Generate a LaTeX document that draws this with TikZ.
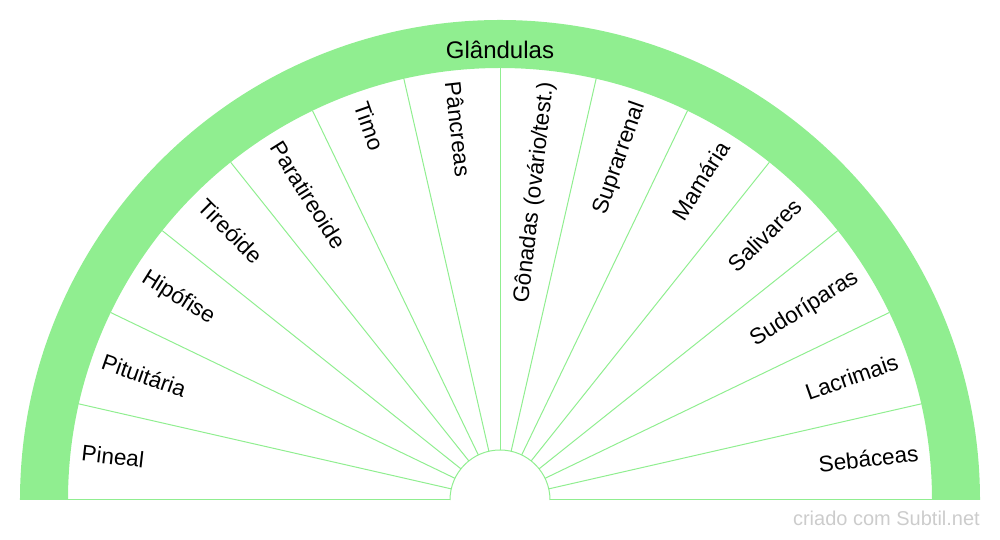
\documentclass[tikz,border=0pt]{standalone}
\usepackage{fontspec}
\setmainfont{Liberation Sans}
\definecolor{band}{RGB}{144,238,144}
\definecolor{wmgray}{RGB}{204,204,204}
\begin{document}
\begin{tikzpicture}[x=1pt,y=1pt,
  lbl/.style={inner sep=0pt, font=\fontsize{22.5}{27}\selectfont},
  divider/.style={draw=band, line width=1pt}]
\useasboundingbox (-500,-40) rectangle (500,500);
\fill[band] (-480,0) arc[start angle=180,end angle=0,radius=480] -- (432,0) arc[start angle=0,end angle=180,radius=432] -- cycle;
\foreach \k in {0,...,14} \draw[divider] (\k*180/14:50) -- (\k*180/14:432);
\draw[divider] (50,0) arc[start angle=0,end angle=180,radius=50];
\foreach \t [count=\i from 0] in {Pineal,Pituitária,Hipófise,Tireóide,Paratireoide,Timo,Pâncreas}{
  \pgfmathsetmacro{\th}{180-(\i+0.5)*180/14}
  \node[lbl, anchor=west, rotate=\th-180] (l\i) at (\th:421) {\t};
}
\foreach \t [count=\i from 7] in {Gônadas (ovário/test.),Suprarrenal,Mamária,Salivares,Sudoríparas,Lacrimais,Sebáceas}{
  \pgfmathsetmacro{\th}{180-(\i+0.5)*180/14}
  \node[lbl, anchor=east, rotate=\th] (l\i) at (\th:421) {\t};
}
\node[inner sep=0pt, anchor=base, font=\fontsize{24}{28}\selectfont] (title) at (0,441) {Glândulas};
\node[inner sep=0pt, anchor=base east, text=wmgray, font=\fontsize{20}{24}\selectfont] (wm) at (480,-26) {criado com Subtil.net};
\end{tikzpicture}
\end{document}
